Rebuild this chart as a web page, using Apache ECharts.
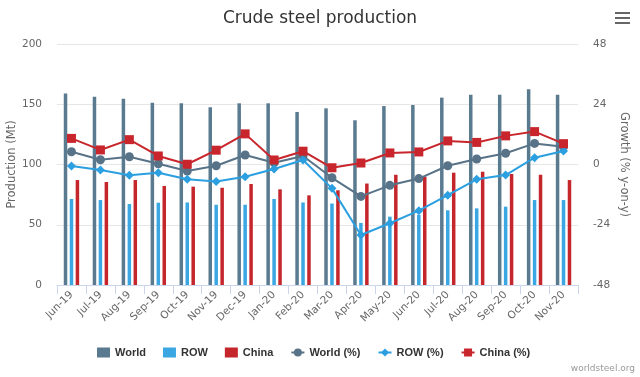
<!DOCTYPE html>
<html>
<head>
<meta charset="utf-8">
<script src="https://cdn.jsdelivr.net/npm/echarts@6/dist/echarts.min.js"></script>
<style>
html,body{margin:0;padding:0;background:#fff;}
#chart{width:640px;height:377px;}
</style>
</head>
<body>
<div id="chart"></div>
<script>
var categories = ['Jun-19','Jul-19','Aug-19','Sep-19','Oct-19','Nov-19','Dec-19','Jan-20','Feb-20','Mar-20','Apr-20','May-20','Jun-20','Jul-20','Aug-20','Sep-20','Oct-20','Nov-20'];
var worldProd = [159.0,156.3,154.6,151.3,150.8,147.5,150.8,150.8,143.6,146.6,136.7,148.5,149.4,155.5,157.9,157.9,162.4,157.9];
var rowProd   = [71.4,70.5,67.2,68.3,68.5,66.6,66.6,71.4,68.5,67.6,51.5,56.7,58.1,62.0,63.6,65.0,70.5,70.5];
var chinaProd = [87.1,85.5,87.1,82.2,81.6,80.7,83.8,79.4,74.4,78.6,84.2,91.5,89.9,93.2,94.0,92.1,91.5,87.1];
var worldGrowth = [5.1,1.9,3.1,0.3,-2.6,-0.5,3.8,0.7,3.4,-5.3,-12.7,-8.3,-5.6,-0.5,2.2,4.5,8.4,7.1];
var rowGrowth   = [-0.6,-2.2,-4.3,-3.3,-5.9,-6.8,-4.9,-1.8,1.8,-9.5,-28.1,-23.4,-18.4,-12.2,-5.9,-4.2,2.7,5.4];
var chinaGrowth = [10.4,5.8,9.9,3.4,0.1,5.7,12.2,1.8,5.3,-1.3,0.6,4.6,5.0,9.4,8.8,11.4,13.1,8.3];
var leftTicks = [0,50,100,150,200];
var rightTicks = [-48,-24,0,24,48];

var FONT = '"DejaVu Sans", Verdana, sans-serif';
var LFONT = '"Liberation Sans", Arial, sans-serif';
var C_WORLD = '#5a7a90', C_ROW = '#3aa6e2', C_CHINA = '#c4262c';
var C_WORLDL = '#587387', C_ROWL = '#2b9fe0', C_CHINAL = '#c8262c';

var chart = echarts.init(document.getElementById('chart'));
chart.setOption({
  animation: false,
  backgroundColor: '#fff',
  title: {
    text: 'Crude steel production', left: 'center', top: 5,
    textStyle: {fontFamily: FONT, fontSize: 17, fontWeight: 'normal', color: '#333'}
  },
  grid: {left: 57, right: 62, top: 44, bottom: 92, outerBoundsMode: 'none', containLabel: false},
  legend: {
    top: 342, left: 92, itemGap: 17, itemWidth: 13, itemHeight: 10,
    textStyle: {fontFamily: LFONT, fontSize: 11, fontWeight: 'bold', color: '#333'},
    data: [
      {name: 'World', icon: 'rect'}, {name: 'ROW', icon: 'rect'}, {name: 'China', icon: 'rect'},
      'World (%)', 'ROW (%)', 'China (%)'
    ]
  },
  xAxis: {
    type: 'category', data: categories, boundaryGap: true,
    axisLine: {lineStyle: {color: '#ccd6eb'}},
    axisTick: {show: true, length: 9, lineStyle: {color: '#ccd6eb'}},
    axisLabel: {rotate: 45, interval: 0, fontFamily: FONT, fontSize: 10.5, color: '#666', margin: 8}
  },
  yAxis: [
    {
      type: 'value', min: leftTicks[0], max: leftTicks[leftTicks.length-1], interval: 50,
      name: 'Production (Mt)', nameLocation: 'middle', nameGap: 39, nameMoveOverlap: false,
      nameTextStyle: {fontFamily: FONT, fontSize: 11.5, color: '#666'},
      axisLine: {show: false}, axisTick: {show: false},
      axisLabel: {fontFamily: FONT, fontSize: 10.5, color: '#666', margin: 15},
      splitLine: {lineStyle: {color: '#e6e6e6'}}
    },
    {
      type: 'value', min: rightTicks[0], max: rightTicks[rightTicks.length-1], interval: 24,
      name: 'Growth (% y-on-y)', nameLocation: 'middle', nameGap: 40, nameRotate: -90, nameMoveOverlap: false,
      nameTextStyle: {fontFamily: FONT, fontSize: 11.5, color: '#666'},
      axisLine: {show: false}, axisTick: {show: false},
      axisLabel: {fontFamily: FONT, fontSize: 10.5, color: '#666', margin: 15},
      splitLine: {show: false}
    }
  ],
  series: [
    {name: 'World', type: 'bar', data: worldProd, barWidth: 3.5, barGap: '70%', itemStyle: {color: C_WORLD}},
    {name: 'ROW', type: 'bar', data: rowProd, barWidth: 3.5, barGap: '70%', itemStyle: {color: C_ROW}},
    {name: 'China', type: 'bar', data: chinaProd, barWidth: 3.5, barGap: '70%', itemStyle: {color: C_CHINA}},
    {name: 'World (%)', type: 'line', yAxisIndex: 1, data: worldGrowth, symbol: 'circle', symbolSize: 9,
      lineStyle: {color: C_WORLDL, width: 2}, itemStyle: {color: C_WORLDL}},
    {name: 'ROW (%)', type: 'line', yAxisIndex: 1, data: rowGrowth, symbol: 'diamond', symbolSize: 9,
      lineStyle: {color: C_ROWL, width: 2}, itemStyle: {color: C_ROWL}},
    {name: 'China (%)', type: 'line', yAxisIndex: 1, data: chinaGrowth, symbol: 'rect', symbolSize: 9,
      lineStyle: {color: C_CHINAL, width: 2}, itemStyle: {color: C_CHINAL}}
  ],
  graphic: [
    {type: 'rect', left: 615, top: 12, shape: {width: 15, height: 2}, style: {fill: '#666'}},
    {type: 'rect', left: 615, top: 17, shape: {width: 15, height: 2}, style: {fill: '#666'}},
    {type: 'rect', left: 615, top: 22, shape: {width: 15, height: 2}, style: {fill: '#666'}},
    {type: 'text', right: 5, bottom: 4, style: {text: 'worldsteel.org', fill: '#999', font: '9px ' + FONT}}
  ]
});
</script>
</body>
</html>
